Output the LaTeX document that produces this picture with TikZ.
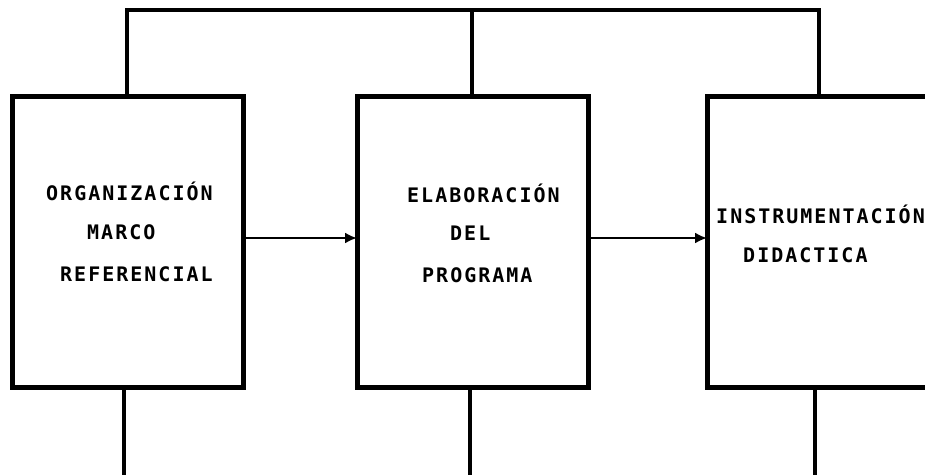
\documentclass[tikz,border=0pt]{standalone}
\usepackage{fontspec}
\newfontfamily\boxfont[LetterSpace=10]{DejaVu Sans Mono Bold}
\usetikzlibrary{arrows.meta}
\tikzset{
  stage/.style={draw, line width=5pt, minimum width=231pt, minimum height=291pt, inner sep=0pt, outer sep=0pt},
  lbl/.style={anchor=base west, inner sep=0pt, font=\boxfont\fontsize{20}{22}\selectfont},
  conn/.style={line width=3.5pt},
  arr/.style={line width=2.2pt, -{Latex[length=12pt,width=11pt]}}
}
\begin{document}
\begin{tikzpicture}[x=1pt,y=-1pt]
\useasboundingbox (0,0) rectangle (925,474);
\fill[white] (0,0) rectangle (925,474);
\clip (0,0) rectangle (925,474);
% boxes
\node[stage] (b1) at (127.5,241.5) {};
\node[stage] (b2) at (472.5,241.5) {};
\node[stage] (b3) at (822.5,241.5) {};
% labels
\node[lbl] (l1a) at (46,200) {ORGANIZACIÓN};
\node[lbl] (l1b) at (87,239) {MARCO};
\node[lbl] (l1c) at (60,281) {REFERENCIAL};
\node[lbl] (l2a) at (407,202) {ELABORACIÓN};
\node[lbl] (l2b) at (450,240) {DEL};
\node[lbl] (l2c) at (422,282) {PROGRAMA};
\node[lbl] (l3a) at (716,223) {INSTRUMENTACIÓN};
\node[lbl] (l3b) at (743,262) {DIDACTICA};
% coordinates
\coordinate (t1) at (127,10);
\coordinate (t2) at (472,10);
\coordinate (t3) at (819,10);
\coordinate (u1) at (124,480);
\coordinate (u2) at (470,480);
\coordinate (u3) at (815,480);
\coordinate (a) at (0,238);
% top feedback lines
\draw[conn] (b1.north -| t1) -- (t1) -- (t3) -- (b3.north -| t3);
\draw[conn] (b2.north -| t2) -- (t2);
% bottom lines
\draw[conn] (b1.south -| u1) -- (u1);
\draw[conn] (b2.south -| u2) -- (u2);
\draw[conn] (b3.south -| u3) -- (u3);
% arrows
\draw[arr] (b1.east |- a) -- (b2.west |- a);
\draw[arr] (b2.east |- a) -- (b3.west |- a);
\end{tikzpicture}
\end{document}
